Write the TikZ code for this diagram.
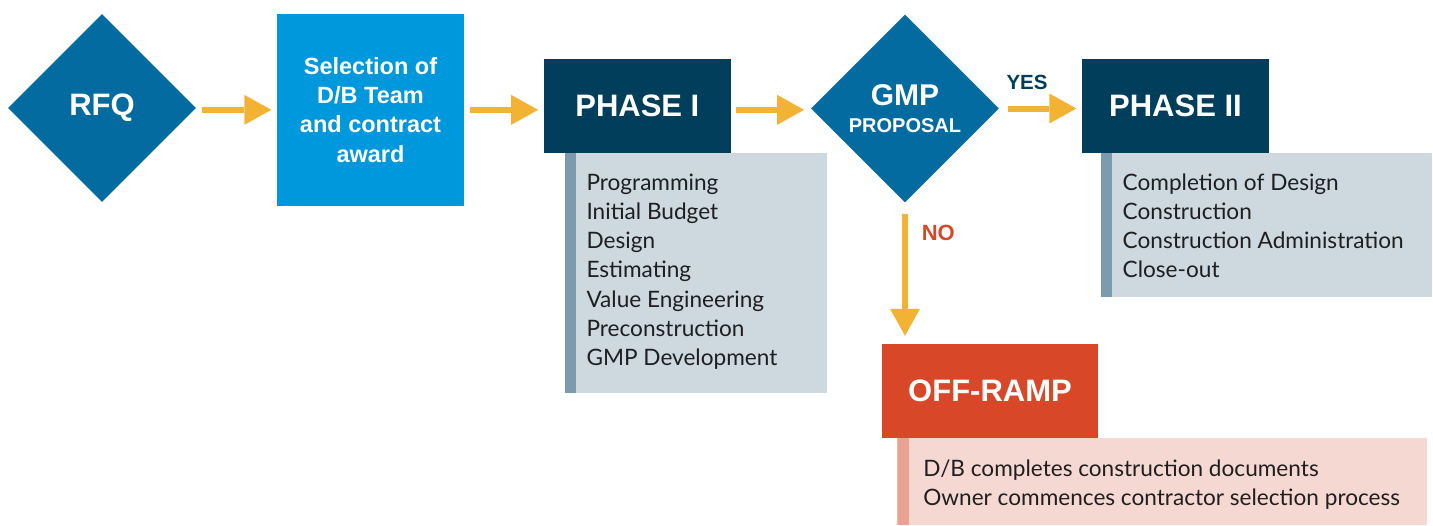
\documentclass[tikz,border=0pt]{standalone}
\usepackage{fontspec}
\usetikzlibrary{shapes.geometric,arrows.meta,positioning}

\newfontfamily\headfont{Liberation Sans}
\newfontfamily\listfont{Lato}

\definecolor{diamondblue}{HTML}{046BA0}
\definecolor{skyblue}{HTML}{0098DD}
\definecolor{navy}{HTML}{003E5C}
\definecolor{panelgrey}{HTML}{CDD8DF}
\definecolor{stripegrey}{HTML}{7C9BAD}
\definecolor{arrowgold}{HTML}{F2B335}
\definecolor{rampred}{HTML}{D84828}
\definecolor{panelpink}{HTML}{F6D8D3}
\definecolor{stripepink}{HTML}{EAA292}

\tikzstyle{decision}=[
    diamond,
    shape aspect=1,
    minimum width=188pt,
    minimum height=188pt,
    inner sep=0pt,
    fill=diamondblue,
    text=white,
    align=center,
    font=\headfont\bfseries\fontsize{31}{26.7}\selectfont
]
\tikzstyle{award}=[
    rectangle,
    minimum width=187pt,
    minimum height=191.7pt,
    fill=skyblue,
    text=white,
    align=center,
    font=\headfont\bfseries\fontsize{23.5}{29.2}\selectfont
]
\tikzstyle{phase}=[
    rectangle,
    minimum width=187pt,
    minimum height=93.7pt,
    fill=navy,
    text=white,
    font=\headfont\bfseries\fontsize{31}{36}\selectfont
]
\tikzstyle{offramp}=[
    phase,
    minimum width=216pt,
    fill=rampred
]
\tikzstyle{panel}=[
    rectangle,
    anchor=north west,
    inner sep=0pt
]
\tikzstyle{greypanel}=[
    panel,
    fill=panelgrey,
    path picture={\fill[stripegrey] (path picture bounding box.north west)
        rectangle ([xshift=10.7pt]path picture bounding box.south west);}
]
\tikzstyle{pinkpanel}=[
    panel,
    fill=panelpink,
    path picture={\fill[stripepink] (path picture bounding box.north west)
        rectangle ([xshift=12pt]path picture bounding box.south west);}
]
% lists are placed by the baseline of their last line
\tikzstyle{items}=[
    anchor=base west,
    align=left,
    inner sep=0pt,
    text=black!88,
    font=\listfont\fontsize{22.6}{29.2}\selectfont
]
\tikzstyle{flow}=[
    line width=6pt,
    arrowgold,
    -{Triangle[length=27pt,width=30pt,line width=0pt]},
    shorten <=6pt,
    shorten >=5.5pt
]

\begin{document}
\begin{tikzpicture}[x=1pt,y=-1pt]
	\useasboundingbox (0,0) rectangle (1433,525);

	% Top row
	\node (rfq) [decision] at (102,108) {RFQ};
	\node (sel_team) [award] at (370.5,109.85) {Selection of\\D/B Team\\and contract\\award};
	\node (phase_1) [phase] at (637.35,105.85) {PHASE I};
	\node (gmp) [decision, font=\headfont\bfseries\fontsize{30}{26.7}\selectfont] at (905,108.5)
		{GMP\\{\fontsize{20}{24}\selectfont PROPOSAL}};
	\node (phase_2) [phase] at (1175.5,105.85) {PHASE II};
	\node (off_ramp) [offramp] at (990,390.85) {OFF-RAMP};

	% Panels under the boxes
	\node (list_1) [greypanel, minimum width=262pt, minimum height=239.6pt]
		at ([xshift=21pt]phase_1.south west) {};
	\node (list_2) [greypanel, minimum width=331pt, minimum height=144pt]
		at ([xshift=19pt]phase_2.south west) {};
	\node (list_3) [pinkpanel, minimum width=529.4pt, minimum height=87.3pt]
		at ([xshift=15.3pt]off_ramp.south west) {};

	\node (items_1) [items] at ([shift={(21.7,212.5)}]list_1.north west)
		{Programming\\Initial Budget\\Design\\Estimating\\Value Engineering\\Preconstruction\\GMP Development};
	\node (items_2) [items] at ([shift={(21.7,124.9)}]list_2.north west)
		{Completion of Design\\Construction\\Construction Administration\\Close-out};
	\node (items_3) [items] at ([shift={(26,67.3)}]list_3.north west)
		{D/B completes construction documents\\Owner commences contractor selection process};

	% Decision labels
	\node (yes) [anchor=base, text=navy, font=\headfont\bfseries\fontsize{20.5}{24}\selectfont]
		at (1027,89) {YES};
	\node (no) [anchor=base west, text=rampred, font=\headfont\bfseries\fontsize{22}{24}\selectfont]
		at (918.3,240.7) {NO};

	\path[flow]
	% Horizontal connections
	(rfq.east |- sel_team.west) edge (sel_team.west)
	(sel_team.east) edge (sel_team.east -| phase_1.west)
	(phase_1.east |- sel_team.east) edge[shorten <=5.3pt, shorten >=6.7pt] (gmp.west |- sel_team.east)
	(gmp.east) edge[shorten <=8.3pt] (gmp.east -| phase_2.west)

	% Off-ramp branch
	(gmp.south) edge[shorten <=11.3pt, shorten >=8pt] (gmp.south |- off_ramp.north)
	;
\end{tikzpicture}
\end{document}
